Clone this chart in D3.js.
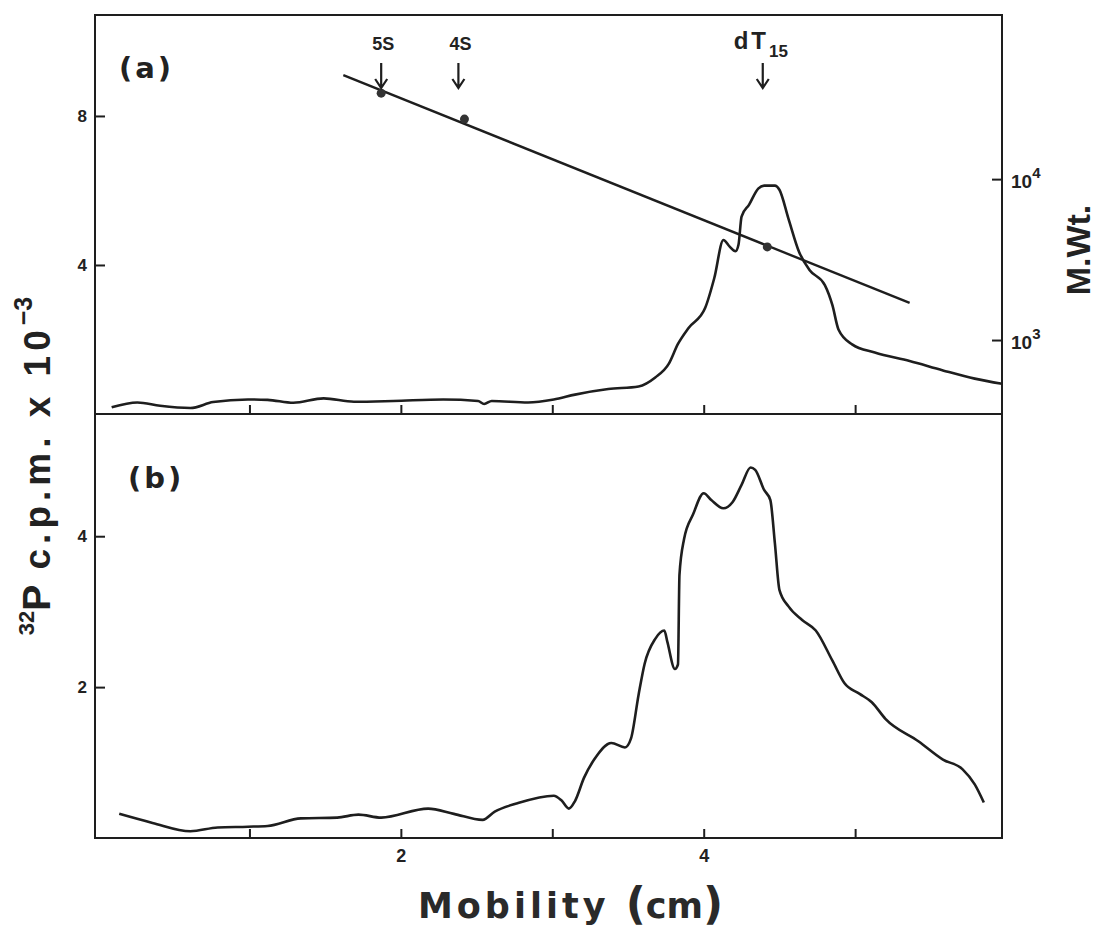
<!DOCTYPE html>
<html>
<head>
<meta charset="utf-8">
<script src="https://cdn.jsdelivr.net/npm/d3@7"></script>
<style>
  body { margin: 0; background: #fff; }
  svg { display: block; }
  .frame { fill: none; stroke: #1e1e1e; stroke-width: 2; }
  .trace { fill: none; stroke: #1e1e1e; stroke-width: 2.6; stroke-linejoin: round; }
  .axis line { stroke: #1e1e1e; stroke-width: 2; }
  .axis path { display: none; }
</style>
</head>
<body>
<div id="chart"></div>
<script>
// mobility (cm) / counts for panel (a)
const mobA = [0.09, 0.26, 0.41, 0.61, 0.76, 0.99, 1.12, 1.29, 1.49, 1.69, 1.95, 2.28, 2.51, 2.55, 2.60,
  2.84, 3.01, 3.15, 3.37, 3.57, 3.68, 3.77, 3.83, 3.90, 4.01, 4.07, 4.13, 4.17, 4.21, 4.23, 4.25,
  4.30, 4.36, 4.40, 4.47, 4.50, 4.56, 4.63, 4.70, 4.80, 4.85, 4.89, 4.98, 5.13, 5.36, 5.58, 5.79, 5.97];
const cpmA = [0.18, 0.31, 0.22, 0.16, 0.32, 0.39, 0.38, 0.30, 0.42, 0.33, 0.35, 0.39, 0.35, 0.27, 0.35,
  0.31, 0.39, 0.52, 0.67, 0.74, 0.98, 1.35, 1.88, 2.31, 2.85, 3.65, 4.67, 4.50, 4.37, 4.55, 5.30,
  5.62, 6.05, 6.13, 6.13, 6.02, 5.24, 4.35, 3.86, 3.46, 2.92, 2.27, 1.87, 1.65, 1.42, 1.17, 0.95, 0.81];

// panel (b)
const mobB = [0.14, 0.36, 0.61, 0.79, 0.99, 1.12, 1.34, 1.58, 1.72, 1.87, 2.18, 2.35, 2.54, 2.62, 2.77,
  3.01, 3.06, 3.11, 3.15, 3.21, 3.28, 3.39, 3.48, 3.52, 3.57, 3.61, 3.68, 3.74, 3.76, 3.81, 3.83,
  3.84, 3.87, 3.93, 4.00, 4.05, 4.13, 4.19, 4.25, 4.31, 4.34, 4.40, 4.44, 4.47, 4.50, 4.56, 4.65,
  4.74, 4.85, 4.93, 5.03, 5.11, 5.20, 5.42, 5.58, 5.71, 5.79, 5.85];
const cpmB = [0.32, 0.20, 0.09, 0.14, 0.15, 0.16, 0.26, 0.27, 0.31, 0.27, 0.39, 0.32, 0.24, 0.35, 0.46,
  0.56, 0.50, 0.39, 0.49, 0.80, 1.05, 1.26, 1.20, 1.32, 1.90, 2.31, 2.64, 2.75, 2.60, 2.24, 2.30,
  3.49, 3.96, 4.29, 4.57, 4.48, 4.37, 4.45, 4.68, 4.91, 4.88, 4.61, 4.48, 3.91, 3.29, 3.07, 2.89,
  2.75, 2.35, 2.05, 1.91, 1.80, 1.58, 1.28, 1.04, 0.91, 0.71, 0.47];

// molecular weight markers
const stdNames = ["5S", "4S", "dT"];
const stdMob = [1.87, 2.42, 4.42];
const stdMW = [34200, 23600, 3790];
const arrowMob = [1.87, 2.38, 4.39];
const fitMob = [1.62, 5.36];
const fitMW = [44300, 1700];

const leftTicksA = [4, 8];
const leftTicksB = [2, 4];
const xTicks = [1, 2, 3, 4, 5];
const xLabels = [2, 4];
const mwTicks = [1000, 10000];

const width = 1098, height = 931;
const svg = d3.select("#chart").append("svg").attr("width", width).attr("height", height);

const x = d3.scaleLinear().domain([-0.02, 5.97]).range([95, 1002]);
const yA = d3.scaleLinear().domain([0, 10.71]).range([414, 15]);
const yB = d3.scaleLinear().domain([0, 5.62]).range([838, 414]);
const yMW = d3.scaleLog().domain([347, 104700]).range([414, 15]);

const tickFont = "'Liberation Sans', Arial, sans-serif";

// frames
svg.append("rect").attr("class", "frame")
  .attr("x", 95).attr("y", 15).attr("width", 907).attr("height", 823);
svg.append("line").attr("class", "frame")
  .attr("x1", 95).attr("x2", 1002).attr("y1", 414).attr("y2", 414);

// axes (ticks point inward)
function tickText(sel, size) {
  sel.selectAll("text")
    .style("font-family", tickFont).style("font-weight", "bold")
    .style("font-size", size).style("fill", "#222");
}
svg.append("g").attr("class", "axis").attr("transform", "translate(95,0)")
  .call(d3.axisLeft(yA).tickValues(leftTicksA).tickSize(-10).tickPadding(8).tickFormat(d3.format("d")))
  .call(tickText, "17px");
svg.append("g").attr("class", "axis").attr("transform", "translate(95,0)")
  .call(d3.axisLeft(yB).tickValues(leftTicksB).tickSize(-10).tickPadding(8).tickFormat(d3.format("d")))
  .call(tickText, "17px");
svg.append("g").attr("class", "axis").attr("transform", "translate(0,414)")
  .call(d3.axisBottom(x).tickValues(xTicks).tickSize(-9).tickFormat(""));
svg.append("g").attr("class", "axis").attr("transform", "translate(0,838)")
  .call(d3.axisBottom(x).tickValues(xTicks).tickSize(-9).tickPadding(11)
    .tickFormat(d => xLabels.includes(d) ? d : ""))
  .call(tickText, "18px");
const mwAxis = svg.append("g").attr("class", "axis").attr("transform", "translate(1002,0)")
  .call(d3.axisRight(yMW).tickValues(mwTicks).tickSize(-10).tickFormat(""));
mwAxis.selectAll(".tick").append("text")
  .attr("x", 9).attr("dy", "0.45em").attr("text-anchor", "start")
  .call(t => {
    t.append("tspan").text("10");
    t.append("tspan").attr("dy", -10).text(d => Math.round(Math.log10(d)));
  });
tickText(mwAxis, "19px");
mwAxis.selectAll("tspan").filter((d, i) => i % 2 === 1).style("font-size", "15px");

// traces
const line = d3.line().curve(d3.curveMonotoneX);
svg.append("path").attr("class", "trace")
  .attr("d", line(mobA.map((m, i) => [x(m), yA(cpmA[i])])));
svg.append("path").attr("class", "trace")
  .attr("d", line(mobB.map((m, i) => [x(m), yB(cpmB[i])])));

// calibration line and standards
svg.append("line")
  .attr("x1", x(fitMob[0])).attr("y1", yMW(fitMW[0]))
  .attr("x2", x(fitMob[1])).attr("y2", yMW(fitMW[1]))
  .attr("stroke", "#1e1e1e").attr("stroke-width", 2.4);
svg.selectAll("circle.std").data(stdMob).enter().append("circle")
  .attr("class", "std")
  .attr("cx", d => x(d)).attr("cy", (d, i) => yMW(stdMW[i]))
  .attr("r", 4.5).attr("fill", "#333");

// marker arrows
const arrows = svg.selectAll("g.arrow").data(arrowMob).enter().append("g")
  .attr("class", "arrow").attr("transform", d => `translate(${x(d)},0)`);
arrows.append("path")
  .attr("d", "M0,63 V88 M-6,79 L0,88 L6,79")
  .attr("fill", "none").attr("stroke", "#1e1e1e").attr("stroke-width", 2.2);
arrows.append("text")
  .attr("x", (d, i) => i === 2 ? -2 : 2).attr("y", (d, i) => i === 2 ? 49 : 50).attr("text-anchor", "middle")
  .style("font-family", tickFont)
  .style("font-weight", "bold").style("font-size", (d, i) => i === 2 ? "24px" : "18px")
  .style("fill", "#222")
  .each(function (d, i) {
    const t = d3.select(this);
    if (i === 2) {
      t.attr("letter-spacing", 3);
      t.append("tspan").text(stdNames[i]);
      t.append("tspan").attr("dy", 8).style("font-size", "17px").attr("letter-spacing", 0).text("15");
    } else {
      t.text(stdNames[i]);
    }
  });

// panel labels
const lab = { "font-family": "'DejaVu Sans', sans-serif", "font-weight": "bold", "font-size": "29px", "fill": "#222" };
function styled(sel, st) { Object.entries(st).forEach(([k, v]) => sel.style(k, v)); return sel; }
styled(svg.append("text").attr("x", 119).attr("y", 78).attr("letter-spacing", 3).text("(a)"), lab);
styled(svg.append("text").attr("x", 128).attr("y", 488).attr("letter-spacing", 3).text("(b)"), lab);

// y title
const yt = svg.append("text")
  .attr("transform", "translate(50,466) rotate(-90)").attr("text-anchor", "middle")
  .style("font-family", tickFont).style("font-weight", "bold").style("fill", "#222");
yt.append("tspan").style("font-size", "22px").attr("dy", -16).text("32");
yt.append("tspan").style("font-size", "39px").attr("dy", 16).text("P");
yt.append("tspan").style("font-size", "37px").attr("letter-spacing", 5).text("  c.p.m.   x   10");
yt.append("tspan").style("font-size", "25px").attr("dy", -18).text("\u22123");

// right title
svg.append("text")
  .attr("transform", "translate(1090,250) rotate(-90)").attr("text-anchor", "middle")
  .style("font-family", tickFont).style("font-weight", "bold")
  .style("font-size", "34px").style("fill", "#222").text("M.Wt.");

// x title
const xt = svg.append("text").attr("x", 418).attr("y", 918)
  .style("font-family", "'DejaVu Sans', sans-serif").style("font-weight", "bold")
  .style("font-size", "35px").style("fill", "#2a2a2a");
xt.append("tspan").attr("letter-spacing", 4).text("Mobility ");
xt.append("tspan").style("font-size", "44px").attr("dy", 1).text("(");
xt.append("tspan").attr("dy", -1).text("cm");
xt.append("tspan").style("font-size", "44px").attr("dy", 1).text(")");
</script>
</body>
</html>
